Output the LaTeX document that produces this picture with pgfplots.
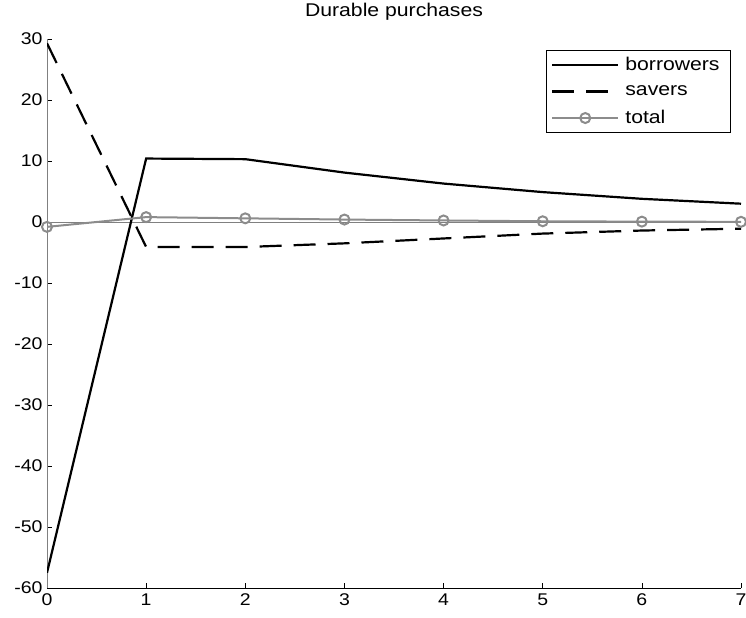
\documentclass[border=0pt]{standalone}
\usepackage{fontspec}
\setmainfont{Liberation Sans}[FakeStretch=1.15]
\usepackage{pgfplots}
\pgfplotsset{compat=1.18}
\definecolor{tgray}{rgb}{0.55,0.55,0.55}
\definecolor{agray}{rgb}{0.5,0.5,0.5}
\begin{document}
\begin{tikzpicture}
\begin{axis}[
  scale only axis,
  width=694bp, height=549bp,
  xmin=0, xmax=7, ymin=-60, ymax=30,
  xtick={0,...,7}, ytick={-60,-50,...,30},
  axis x line*=bottom, axis y line*=left,
  x axis line style={black, line width=0.8bp, -},
  y axis line style={agray, line width=0.8bp, -},
  tick align=inside, major tick length=5bp,
  tick style={black, line width=0.6bp},
  /pgf/number format/assume math mode=true,
  ticklabel style={font=\fontsize{17}{20}\selectfont},
  xticklabel style={yshift=-2bp},
  yticklabel style={xshift=-1bp},
  title={Durable purchases},
  title style={font=\fontsize{18.5}{22}\selectfont, at={(0.5,1)}, anchor=base, yshift=17bp},
  legend style={at={(0.9856,0.98)}, anchor=north east,
    draw=black, line width=0.8bp, font=\fontsize{18.5}{22}\selectfont,
    row sep=9.5bp, inner xsep=5bp, inner ysep=5bp,
    nodes={inner xsep=6bp}},
  legend cell align=left,
  legend image code/.code={\draw[mark repeat=2,mark phase=2,#1] plot coordinates {(0bp,0bp) (33bp,0bp) (66bp,0bp)};},
]
\addplot[agray, line width=0.8bp, forget plot] coordinates {(0,0) (7,0)};
\addplot[black, line width=2.2bp] coordinates {
(0,-57.5) (1,10.4) (2,10.3) (3,8.1) (4,6.3) (5,4.9) (6,3.8) (7,3.0)};
\addlegendentry{borrowers}
\addplot[black, line width=2.2bp, dash pattern=on 22bp off 12bp] coordinates {
(0,29.3) (1,-4.1) (2,-4.1) (3,-3.5) (4,-2.7) (5,-1.9) (6,-1.4) (7,-1.1)};
\addlegendentry{savers}
\addplot[tgray, line width=2bp, mark=o, mark size=5bp, mark options={line width=2bp}] coordinates {
(0,-0.8) (1,0.8) (2,0.6) (3,0.4) (4,0.25) (5,0.12) (6,0.06) (7,0.03)};
\addlegendentry{total}
\end{axis}
\pgfresetboundingbox
\path (current axis.south west) ++(-47bp,-30bp) rectangle ([xshift=5bp,yshift=39bp]current axis.north east);
\end{tikzpicture}
\end{document}
